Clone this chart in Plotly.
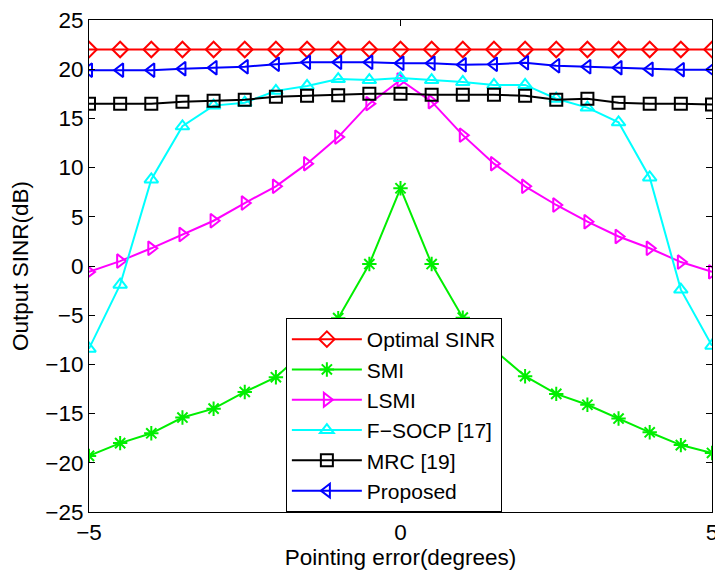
import plotly.graph_objects as go

x = [-5, -4.5, -4, -3.5, -3, -2.5, -2, -1.5, -1, -0.5, 0, 0.5, 1, 1.5, 2, 2.5, 3, 3.5, 4, 4.5, 5]

optimal = [22.0] * 21
smi = [-19.3, -18.0, -17.0, -15.4, -14.5, -12.8, -11.3, -8.4, -5.3, 0.2, 7.9,
       0.2, -5.25, -8.5, -11.2, -13.0, -14.1, -15.5, -16.9, -18.2, -19.0]
lsmi = [-0.6, 0.5, 1.8, 3.2, 4.6, 6.4, 8.1, 10.4, 13.1, 16.5, 18.9,
        16.7, 13.3, 10.4, 8.1, 6.2, 4.5, 3.0, 1.8, 0.4, -0.6]
fsocp = [-8.4, -1.9, 8.8, 14.2, 16.3, 16.6, 17.8, 18.3, 19.0, 18.9, 19.1,
         18.9, 18.7, 18.4, 18.4, 17.0, 16.1, 14.6, 9.0, -2.4, -8.1]
mrc = [16.5, 16.5, 16.5, 16.7, 16.8, 16.9, 17.2, 17.3, 17.35, 17.5, 17.5,
       17.4, 17.4, 17.4, 17.3, 16.9, 17.0, 16.6, 16.5, 16.5, 16.4]
proposed = [19.9, 19.9, 19.9, 20.05, 20.15, 20.25, 20.5, 20.7, 20.7, 20.7, 20.6,
            20.6, 20.45, 20.5, 20.65, 20.35, 20.25, 20.15, 20.0, 19.95, 19.95]

series = [
    ("Optimal SINR", optimal, "#ff0000", "diamond-open"),
    ("SMI", smi, "#00ee00", "asterisk-open"),
    ("LSMI", lsmi, "#ff00ff", "triangle-right-open"),
    ("F\u2212SOCP [17]", fsocp, "#00ffff", "triangle-up-open"),
    ("MRC [19]", mrc, "#000000", "square-open"),
    ("Proposed", proposed, "#0000ff", "triangle-left-open"),
]

fig = go.Figure()
for name, y, c, sym in series:
    fig.add_trace(go.Scatter(
        x=x, y=y, name=name, mode="lines+markers",
        line=dict(color=c, width=2),
        marker=dict(symbol=sym, size=12, color=c, line=dict(color=c, width=2)),
    ))

fam = "Liberation Sans, Arial, sans-serif"
fs = 22.5
fig.update_layout(
    width=715, height=572,
    margin=dict(l=89, r=3, t=20, b=60, autoexpand=False),
    plot_bgcolor="white", paper_bgcolor="white",
    font=dict(family=fam, size=fs, color="black"),
    showlegend=True,
    legend=dict(
        x=0.316, y=0, xanchor="left", yanchor="bottom",
        bgcolor="white", bordercolor="black", borderwidth=1,
        font=dict(family=fam, size=21, color="black"),
        tracegroupgap=0, itemwidth=70,
    ),
)
fig.update_xaxes(
    range=[-5, 5], tickvals=[-5, 0, 5], ticktext=["\u22125", "0", "5"],
    ticks="inside", ticklen=6, tickcolor="black", mirror="ticks",
    showline=True, linecolor="black", linewidth=1, showgrid=False, zeroline=False,
    tickfont=dict(family=fam, size=fs), ticklabeloverflow="allow", automargin=False,
    title=dict(text="Pointing error(degrees)", standoff=0, font=dict(family=fam, size=fs)),
)
yt = list(range(-25, 30, 5))
fig.update_yaxes(
    range=[-25, 25], tickvals=yt, ticktext=[str(v).replace("-", "\u2212") for v in yt],
    ticks="inside", ticklen=6, tickcolor="black", mirror="ticks",
    showline=True, linecolor="black", linewidth=1, showgrid=False, zeroline=False,
    tickfont=dict(family=fam, size=fs), automargin=False,
    title=dict(text="Output SINR(dB)", standoff=10, font=dict(family=fam, size=fs)),
)

fig.write_html("out.html")
